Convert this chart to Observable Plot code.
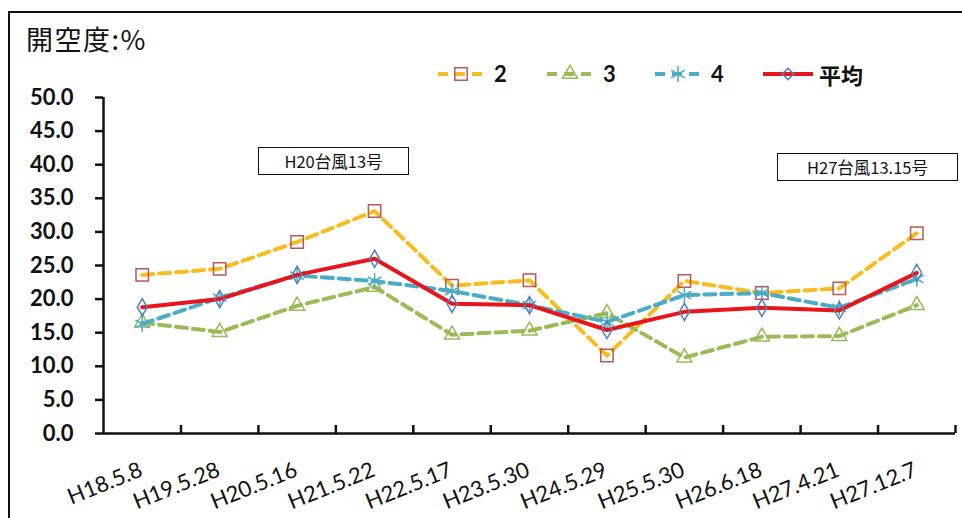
<!DOCTYPE html>
<html><head><meta charset="utf-8">
<script src="https://cdn.jsdelivr.net/npm/d3@7"></script>
<script src="https://cdn.jsdelivr.net/npm/@observablehq/plot@0.6"></script>
<style>
body{margin:0;background:#fff;}
#wrap{position:relative;width:962px;height:518px;overflow:hidden;font-family:Lato,"Noto Sans CJK JP",sans-serif;background:#fff;}
#frame{position:absolute;left:8px;top:11px;width:990px;height:560px;border:2.5px solid #111;box-sizing:border-box;}
#chart{position:absolute;left:0;top:0;}
#title{position:absolute;left:26px;top:25px;font-size:27px;font-family:"Noto Sans CJK JP",sans-serif;line-height:1;color:#111;letter-spacing:1.5px;}
.box{position:absolute;border:1.5px solid #111;background:#fff;font-family:"Noto Sans CJK JP",sans-serif;font-size:16.5px;display:flex;align-items:center;justify-content:center;box-sizing:border-box;color:#111;}
.leg{position:absolute;top:60px;height:28px;display:flex;align-items:center;}
.leg span{font-weight:bold;font-size:22px;color:#111;margin-left:10px;line-height:1;}
</style></head>
<body>
<div id="wrap">
  <div id="frame"></div>
  <div id="chart"></div>
  <div id="title">開空度:%</div>
  <div id="legend"></div>
  <div class="box" style="left:258px;top:147px;width:151px;height:28px;">H20台風13号</div>
  <div class="box" style="left:777px;top:153px;width:181px;height:28px;">H27台風13.15号</div>
</div>
<script>
const categories = ["H18.5.8","H19.5.28","H20.5.16","H21.5.22","H22.5.17","H23.5.30","H24.5.29","H25.5.30","H26.6.18","H27.4.21","H27.12.7"];
const series2 = [23.6,24.5,28.5,33.1,22.0,22.8,11.6,22.7,20.9,21.6,29.8];
const series3 = [16.5,15.1,19.0,21.8,14.7,15.3,17.9,11.3,14.4,14.5,19.1];
const series4 = [16.3,20.2,23.5,22.7,21.2,19.1,16.6,20.6,20.9,18.7,23.0];
const seriesAvg = [18.8,20.0,23.6,26.0,19.3,19.1,15.4,18.1,18.7,18.3,23.9];
const seriesNames = ["2","3","4","平均"];
const yTicks = [0,5,10,15,20,25,30,35,40,45,50];

const styles = [
  {values: series2, stroke:"#f5bd1f", dash:"11,6", symbol:"square", r:7.0, mstroke:"#b9585a"},
  {values: series3, stroke:"#9bbb59", dash:"11,6", symbol:"triangle", r:5.6, mstroke:"#9bbb59"},
  {values: series4, stroke:"#4bacc6", dash:"11,6", symbol:"asterisk", r:7.5, mstroke:"#4bacc6"},
  {values: seriesAvg, stroke:"#e8161c", dash:null, symbol:"diamond", r:5.2, mstroke:"#4f81bd"}
];

const rows = styles.map((s, k) => s.values.map((v, i) => ({i, v, name: seriesNames[k]})));
const boundaries = categories.map((_, i) => i + 0.5);

const marks = [
  Plot.ruleX([-0.5], {y1: 0, y2: 50, stroke: "#111", strokeWidth: 2.5}),
  Plot.ruleY([0], {x1: -0.5, x2: 10.5, stroke: "#111", strokeWidth: 2.5}),
  Plot.axisY({ticks: yTicks, tickSize: 8, tickPadding: 22, tickFormat: d => d.toFixed(1), fontSize: 22, fontWeight: "bold", strokeWidth: 2.5, label: null}),
  Plot.axisX({ticks: boundaries, tickSize: 8, dy: -8, tickFormat: () => "", strokeWidth: 2.5, label: null}),
  Plot.text(categories, {x: (d, i) => i, text: d => d, frameAnchor: "bottom", dy: 35.5, dx: -1, rotate: -22, textAnchor: "end", lineAnchor: "middle", fontSize: 22, fill: "#111"})
];
styles.forEach((s, k) => {
  marks.push(Plot.line(rows[k], {x: "i", y: "v", stroke: s.stroke, strokeWidth: 4, strokeDasharray: s.dash, curve: "linear"}));
  marks.push(Plot.dot(rows[k], {x: "i", y: "v", symbol: s.symbol, r: s.r, stroke: s.mstroke, strokeWidth: 1.5, fill: "none"}));
});

const chart = Plot.plot({
  width: 962, height: 518,
  marginLeft: 103, marginRight: 7, marginTop: 97, marginBottom: 85,
  style: {fontFamily: "Lato, 'Noto Sans CJK JP', sans-serif", color: "#111", background: "transparent", overflow: "visible"},
  x: {type: "linear", domain: [-0.5, 10.5], axis: null},
  y: {domain: [0, 50], axis: null},
  marks
});
document.getElementById("chart").appendChild(chart);

// legend
const legendLeft = [438, 547, 655, 763];
const legend = document.getElementById("legend");
const symbolMap = {square: d3.symbolSquare, triangle: d3.symbolTriangle, asterisk: d3.symbolAsterisk, diamond: d3.symbolDiamond2};
styles.forEach((s, k) => {
  const item = document.createElement("div");
  item.className = "leg";
  item.style.left = legendLeft[k] + "px";
  const w = k === 3 ? 50 : 46;
  const svg = d3.create("svg").attr("width", w).attr("height", 28);
  svg.append("line").attr("x1", 0).attr("x2", w).attr("y1", 14).attr("y2", 14)
    .attr("stroke", s.stroke).attr("stroke-width", 4).attr("stroke-dasharray", k === 3 ? null : "10,7");
  svg.append("path").attr("transform", `translate(${w/2},14)`)
    .attr("d", d3.symbol(symbolMap[s.symbol], Math.PI * s.r * s.r)())
    .attr("fill", "none").attr("stroke", s.mstroke).attr("stroke-width", 1.5);
  item.appendChild(svg.node());
  const t = document.createElement("span");
  t.textContent = seriesNames[k];
  if (k === 3) { t.style.fontFamily = "'Noto Sans CJK JP', sans-serif"; t.style.marginLeft = "6px"; }
  item.appendChild(t);
  legend.appendChild(item);
});
</script>
</body></html>
